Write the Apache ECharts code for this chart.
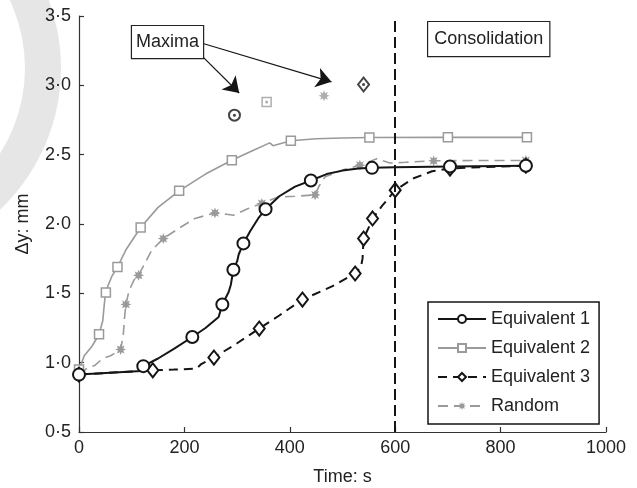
<!DOCTYPE html>
<html>
<head>
<meta charset="utf-8">
<script src="https://cdn.jsdelivr.net/npm/echarts@6/dist/echarts.min.js"></script>
<style>
  html, body { margin: 0; padding: 0; background: #fff; }
  #chart { width: 637px; height: 488px; }
</style>
</head>
<body>
<div id="chart"></div>
<script>
// ---- Settlement histories (time in s, displacement in mm) ----
const eq1Time = [0, 118, 122, 150, 180, 215, 240, 265, 272, 284, 288, 293, 300, 303, 306, 312, 325, 340, 354, 380, 410, 440, 470, 500, 530, 556, 600, 704, 848];
const eq1Disp = [0.914, 0.94, 0.975, 1.03, 1.10, 1.185, 1.25, 1.33, 1.42, 1.51, 1.56, 1.67, 1.73, 1.78, 1.79, 1.86, 1.95, 2.04, 2.107, 2.20, 2.27, 2.314, 2.36, 2.385, 2.40, 2.405, 2.41, 2.415, 2.42];
const eq1Marks = [0, 122, 215, 272, 293, 312, 354, 440, 556, 704, 848];

const eq2Time = [0, 10, 25, 38, 45, 48, 50, 51, 55, 62, 73, 90, 117, 150, 190, 240, 290, 330, 362, 368, 402, 450, 500, 551, 700, 850];
const eq2Disp = [0.95, 1.05, 1.12, 1.205, 1.30, 1.42, 1.49, 1.506, 1.555, 1.62, 1.69, 1.82, 1.975, 2.12, 2.239, 2.36, 2.46, 2.53, 2.585, 2.565, 2.60, 2.615, 2.62, 2.624, 2.625, 2.625];
const eq2Marks = [0, 38, 51, 73, 117, 190, 290, 402, 551, 700, 850];

const eq3Time = [0, 118, 140, 180, 223, 232, 256, 300, 342, 380, 424, 480, 524, 535, 538, 540, 548, 557, 575, 600, 635, 670, 704, 760, 848];
const eq3Disp = [0.914, 0.94, 0.945, 0.95, 0.957, 0.99, 1.037, 1.14, 1.246, 1.34, 1.455, 1.55, 1.643, 1.69, 1.75, 1.895, 1.96, 2.04, 2.13, 2.244, 2.33, 2.38, 2.40, 2.41, 2.42];
const eq3Marks = [0, 140, 256, 342, 424, 524, 540, 557, 600, 704, 848];

const rndTime = [0, 15, 30, 45, 60, 79, 84, 87, 89, 95, 105, 113, 138, 160, 190, 220, 258, 280, 293, 320, 347, 378, 410, 448, 455, 467, 500, 533, 565, 590, 620, 673, 760, 848];
const rndDisp = [0.914, 0.96, 0.98, 1.03, 1.05, 1.095, 1.20, 1.35, 1.42, 1.52, 1.60, 1.63, 1.81, 1.895, 1.97, 2.04, 2.08, 2.07, 2.063, 2.11, 2.148, 2.195, 2.20, 2.21, 2.27, 2.34, 2.39, 2.424, 2.47, 2.44, 2.445, 2.456, 2.458, 2.458];
const rndMarks = [0, 79, 89, 113, 160, 258, 347, 448, 533, 673, 848];

// Peak displacement of each test
const maxTime = [295, 356, 540, 465];
const maxDisp = [2.785, 2.88, 3.006, 2.924];

const consolidationTime = 600;

const seriesNames = ['Equivalent 1', 'Equivalent 2', 'Equivalent 3', 'Random'];
const yTicks = [0.5, 1.0, 1.5, 2.0, 2.5, 3.0, 3.5];
const xTicks = [0, 200, 400, 600, 800, 1000];

// ---- drawing ----
const FONT = "'Liberation Sans', Arial, Helvetica, sans-serif";
const BLACK = '#151515';
const GREY = '#9a9a9a';

// eight-pointed asterisk used for the "Random" markers
const starPath = (function () {
  const pts = [];
  for (let i = 0; i < 16; i++) {
    const a = i * Math.PI / 8 - Math.PI / 2;
    const r = i % 2 ? 26 : 50;
    pts.push((50 + r * Math.cos(a)).toFixed(2) + ' ' + (50 + r * Math.sin(a)).toFixed(2));
  }
  return 'path://M' + pts.join(' L') + ' Z';
})();

function build(times, values, marks) {
  return times.map((t, i) => marks.indexOf(t) >= 0
    ? { value: [t, values[i]] }
    : { value: [t, values[i]], symbol: 'none' });
}

const chart = echarts.init(document.getElementById('chart'), null, { renderer: 'canvas' });

const lineBase = {
  type: 'line',
  smooth: false,
  animation: false,
  emphasis: { disabled: true },
  clip: false
};

const markStyles = [
  { symbol: 'circle', symbolSize: 11, itemStyle: { color: '#fff', borderColor: BLACK, borderWidth: 2 } },
  { symbol: 'rect', symbolSize: 9, itemStyle: { color: '#fff', borderColor: GREY, borderWidth: 1.5 } },
  { symbol: 'diamond', symbolSize: [11, 14], itemStyle: { color: '#fff', borderColor: BLACK, borderWidth: 2 } },
  { symbol: starPath, symbolSize: 11, itemStyle: { color: GREY, borderWidth: 0 } }
];
const dotColors = [BLACK, GREY, BLACK, null];

const option = {
  animation: false,
  backgroundColor: '#fff',
  textStyle: { fontFamily: FONT },
  grid: { left: 79, right: 31, top: 16, bottom: 56, outerBoundsMode: 'none' },
  xAxis: {
    type: 'value', min: 0, max: 1000, interval: 200,
    name: 'Time: s', nameLocation: 'middle', nameGap: 36,
    nameTextStyle: { fontSize: 18, color: '#222', fontFamily: FONT },
    axisLine: { show: true, onZero: false, lineStyle: { color: '#333', width: 1.2 } },
    axisTick: { show: true, inside: true, length: 5, lineStyle: { color: '#333', width: 1.2 } },
    axisLabel: { fontSize: 18, color: '#222', margin: 7, fontFamily: FONT,
      formatter: v => xTicks.indexOf(v) >= 0 ? String(v) : '' },
    splitLine: { show: false }
  },
  yAxis: {
    type: 'value', min: 0.5, max: 3.5, interval: 0.5,
    name: 'Δy: mm', nameLocation: 'middle', nameGap: 47, nameRotate: 90,
    nameTextStyle: { fontSize: 18, color: '#222', fontFamily: FONT },
    axisLine: { show: true, onZero: false, lineStyle: { color: '#333', width: 1.2 } },
    axisTick: { show: true, inside: true, length: 5, lineStyle: { color: '#333', width: 1.2 } },
    axisLabel: { fontSize: 18, color: '#222', margin: 8, fontFamily: FONT,
      formatter: v => yTicks.some(t => Math.abs(t - v) < 1e-9) ? v.toFixed(1).replace('.', '·') : '' },
    splitLine: { show: false }
  },
  legend: {
    orient: 'vertical', left: 428, top: 302,
    padding: [7, 9, 8, 9], itemGap: 9, itemWidth: 48, itemHeight: 10,
    backgroundColor: '#fff', borderColor: BLACK, borderWidth: 1.5, borderRadius: 0,
    selectedMode: false,
    textStyle: { fontSize: 18, color: '#222', fontFamily: FONT, lineHeight: 20 },
    data: seriesNames
  },
  graphic: [{
    type: 'ring', silent: true, z: -10,
    shape: { cx: -134, cy: 68, r: 195, r0: 159 },
    style: { fill: '#e6e6e6' }
  }],
  series: [
    Object.assign({}, lineBase, {
      name: seriesNames[1], z: 2,
      data: build(eq2Time, eq2Disp, eq2Marks),
      symbol: 'rect', symbolSize: 9,
      lineStyle: { color: GREY, width: 1.6 },
      itemStyle: { color: '#fff', borderColor: GREY, borderWidth: 1.5 }
    }),
    Object.assign({}, lineBase, {
      name: seriesNames[3], z: 3,
      data: build(rndTime, rndDisp, rndMarks),
      symbol: starPath, symbolSize: 11,
      lineStyle: { color: GREY, width: 1.6, type: [10, 6] },
      itemStyle: { color: GREY, borderWidth: 0 }
    }),
    Object.assign({}, lineBase, {
      name: seriesNames[2], z: 4,
      data: build(eq3Time, eq3Disp, eq3Marks),
      symbol: 'diamond', symbolSize: [11, 14],
      lineStyle: { color: BLACK, width: 2, type: [9, 6] },
      itemStyle: { color: '#fff', borderColor: BLACK, borderWidth: 2 }
    }),
    Object.assign({}, lineBase, {
      name: seriesNames[0], z: 5,
      data: build(eq1Time, eq1Disp, eq1Marks),
      symbol: 'circle', symbolSize: 12,
      lineStyle: { color: BLACK, width: 2 },
      itemStyle: { color: '#fff', borderColor: BLACK, borderWidth: 2 },
      markLine: {
        silent: true, animation: false,
        symbol: 'none', label: { show: false },
        lineStyle: { color: BLACK, width: 2, type: [11, 5] },
        data: [{ xAxis: consolidationTime }]
      }
    }),
    {
      type: 'scatter', name: 'peaks', z: 6, animation: false, emphasis: { disabled: true },
      data: maxTime.map((t, i) => Object.assign({ value: [t, maxDisp[i]] }, markStyles[i]))
    },
    {
      type: 'scatter', name: 'peak centres', z: 7, animation: false, emphasis: { disabled: true },
      symbol: 'circle', symbolSize: 3,
      data: maxTime.map((t, i) => dotColors[i]
        ? { value: [t, maxDisp[i]], itemStyle: { color: dotColors[i] } }
        : { value: [t, maxDisp[i]], symbol: 'none' }),
      markLine: {
        silent: true, animation: false,
        symbol: ['none', 'arrow'], symbolSize: 15,
        label: { show: false },
        lineStyle: { color: BLACK, width: 1.2, type: 'solid' },
        data: [
          [{ coord: [235, 3.205] }, { coord: [304, 2.945] }],
          [{ coord: [237, 3.30] }, { coord: [479, 3.025] }]
        ]
      }
    }
  ]
};

chart.setOption(option);

// text boxes anchored in data space
const boxStyle = {
  font: '18px ' + FONT, fill: '#222',
  backgroundColor: '#fff', borderColor: '#222', borderWidth: 1.2,
};
const p1 = chart.convertToPixel({ gridIndex: 0 }, [100.6, 3.427]);
const p2 = chart.convertToPixel({ gridIndex: 0 }, [662.6, 3.456]);
chart.setOption({
  graphic: [
    option.graphic[0],
    { type: 'text', z: 20, x: p1[0], y: p1[1],
      style: Object.assign({ text: 'Maxima', padding: [7, 4, 7, 4] }, boxStyle) },
    { type: 'text', z: 20, x: p2[0], y: p2[1],
      style: Object.assign({ text: 'Consolidation', padding: [8, 6, 8, 6] }, boxStyle) }
  ]
});
</script>
</body>
</html>
